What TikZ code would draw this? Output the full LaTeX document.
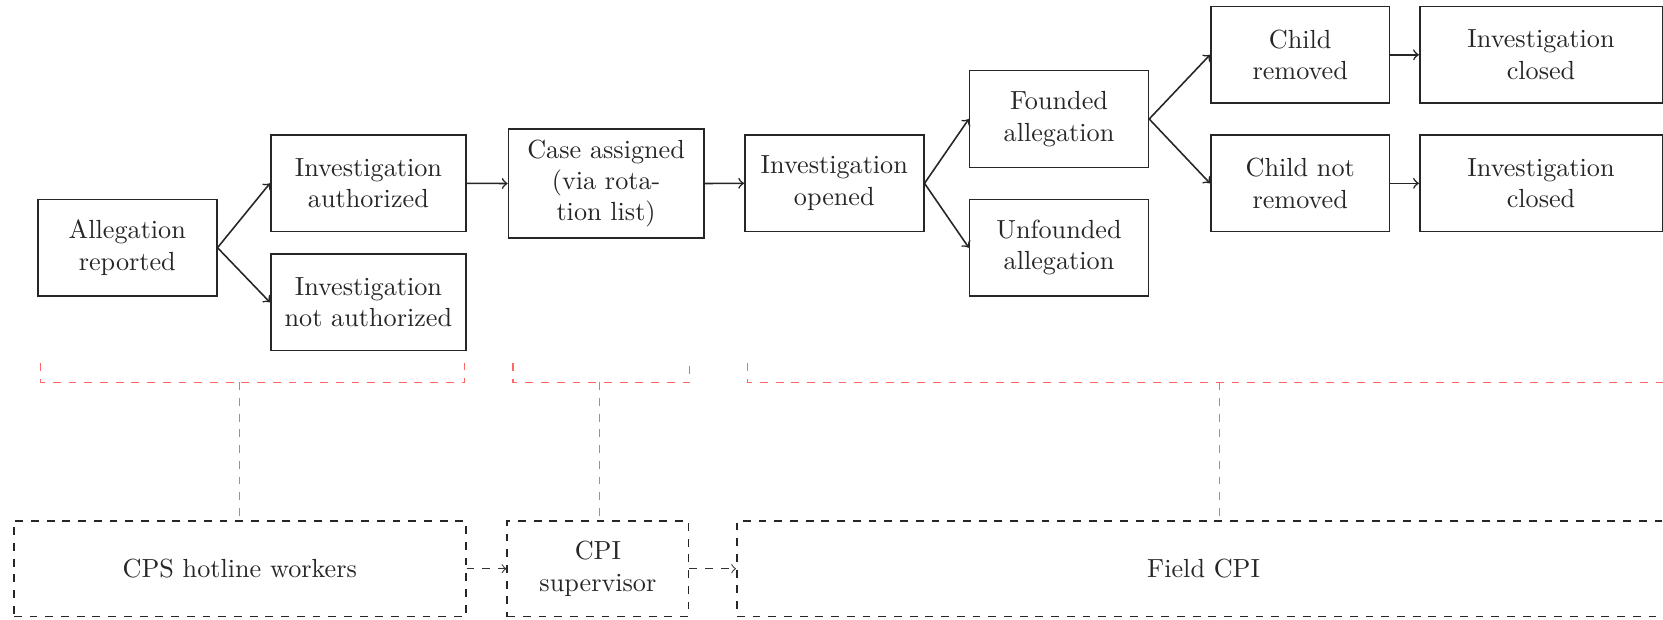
\documentclass[tikz,border=0pt]{standalone}
\begin{document}
\begin{tikzpicture}[x=0.3817pt,y=-0.3817pt,
  box/.style={draw=black!85, line width=0.6pt, text=black!85, align=center, inner xsep=3.33pt, inner ysep=0pt, minimum height=36.9pt},
  boxA/.style={box, text width=61.6pt},
  boxB/.style={box, text width=67.9pt},
  boxC/.style={box, text width=84pt, inner xsep=4.3pt},
  rolebox/.style={box, dashed, minimum height=36.6pt},
  arr/.style={->, line width=0.6pt, draw=black!85},
  darr/.style={->, dashed, line width=0.4pt, draw=black!80},
  bracketline/.style={dashed, draw=red!60, line width=0.6pt}]
\useasboundingbox (0,0) rectangle (1663,619);
% process boxes
\node[boxA] (ar) at (127.3,247.7) {Allegation reported};
\node[boxB] (ia) at (368.4,183.3) {Investigation authorized};
\node[boxB] (ina) at (368.4,302.3) {Investigation not authorized};
\node[boxB, minimum height=41.8pt] (ca) at (606.1,183.5) {Case assigned\\(via rota-\\tion list)};
\node[boxA] (io) at (834.3,183.3) {Investigation opened};
\node[boxA] (fa) at (1059,119) {Founded allegation};
\node[boxA] (ua) at (1059,247.7) {Unfounded allegation};
\node[boxA] (cr) at (1300.2,54.8) {Child removed};
\node[boxA] (cnr) at (1300.2,183.3) {Child not removed};
\node[boxC] (ic1) at (1541,54.8) {Investigation closed};
\node[boxC] (ic2) at (1541,183.3) {Investigation closed};
% connectors
\draw[arr] (ar.east) -- (ia.west);
\draw[arr] (ar.east) -- (ina.west);
\draw[arr] (ia.east) -- (ca.west);
\draw[arr] (ca.east) -- (io.west);
\draw[arr] (io.east) -- (fa.west);
\draw[arr] (io.east) -- (ua.west);
\draw[arr] (fa.east) -- (cr.west);
\draw[arr] (fa.east) -- (cnr.west);
\draw[arr] (cr.east) -- (ic1.west);
\draw[arr] (cnr.east) -- (ic2.west);
% role boxes
\node[rolebox, text width=165.8pt] (cps) at (239.8,568.7) {CPS hotline workers};
\node[rolebox, text width=62.6pt] (cpi) at (597.9,568.7) {CPI\\supervisor};
\node[rolebox, text width=349.7pt] (fcpi) at (1203.6,568.7) {Field CPI};
\draw[darr] (cps.east) -- (cpi.west);
\draw[darr] (cpi.east) -- (fcpi.west);
% brackets
\coordinate (b1l) at (40.4,363.3);
\coordinate (b1r) at (464.6,363.3);
\coordinate (b1m) at (239.6,382.3);
\coordinate (b2l) at (512.9,363.3);
\coordinate (b2r) at (689.6,363.3);
\coordinate (b2m) at (599.6,382.3);
\coordinate (b3l) at (747.5,363.3);
\coordinate (b3r) at (1691.7,363.3);
\coordinate (b3m) at (1219.6,382.3);
\draw[bracketline] (b1l) -- (b1l |- b1m) -- (b1r |- b1m) -- (b1r);
\draw[bracketline] (b1m) -- (b1m |- cps.north);
\draw[bracketline] (b2l) -- (b2l |- b2m) -- (b2r |- b2m) -- (b2r);
\draw[bracketline] (b2m) -- (b2m |- cpi.north);
\draw[bracketline] (b3l) -- (b3l |- b3m) -- (b3r |- b3m) -- (b3r);
\draw[bracketline] (b3m) -- (b3m |- fcpi.north);
\end{tikzpicture}
\end{document}
